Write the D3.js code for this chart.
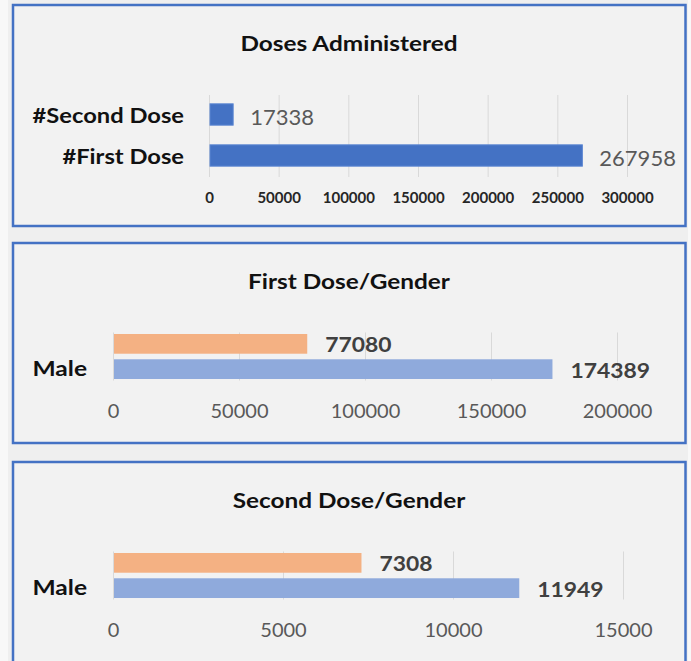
<head><script src="https://d3js.org/d3.v7.min.js"></script></head>

<body>
  <svg id="chart" width="691" height="661"></svg>

  <script>
    // Doses administered (top chart)
    var doseCategories = ["#Second Dose", "#First Dose"];
    var doseValues = [17338, 267958];
    var doseTicks = [0, 50000, 100000, 150000, 200000, 250000, 300000];

    // Gender charts: one category, two series each
    var genderCategories = ["Male"];
    var genderSeries = ["series1", "series2"];
    var firstDoseByGender = [77080, 174389];
    var firstDoseTicks = [0, 50000, 100000, 150000, 200000];
    var secondDoseByGender = [7308, 11949];
    var secondDoseTicks = [0, 5000, 10000, 15000];

    var seriesColors = ["#F4B183", "#8FAADC"];
    var font = "Lato, 'Open Sans', sans-serif";

    var svg = d3.select("#chart");

    // the source screenshot is a bit wider than tall, so stretch text horizontally
    function stretch(sel, sx) {
      sel.each(function() {
        var t = d3.select(this);
        var x = +t.attr("x") || 0;
        t.attr("x", x / sx).attr("transform", "scale(" + sx + ",1)");
      });
    }

    // page background + light strips at the edges
    svg.append("rect").attr("width", 691).attr("height", 661).attr("fill", "#efefef");
    svg.append("rect").attr("width", 8).attr("height", 661).attr("fill", "#f8f8f8");
    svg.append("rect").attr("x", 688).attr("width", 3).attr("height", 661).attr("fill", "#f8f8f8");

    // a framed chart area
    function panel(top, bottom, title) {
      var g = svg.append("g");
      g.append("rect")
        .attr("x", 13).attr("y", top)
        .attr("width", 672.5).attr("height", bottom - top)
        .attr("fill", "#f2f2f2")
        .attr("stroke", "#4472C4").attr("stroke-width", 2.5);
      var t = g.append("text")
        .attr("x", 349).attr("y", top + 46)
        .attr("text-anchor", "middle")
        .style("font-family", font).style("font-size", "21px").style("font-weight", "bold")
        .attr("fill", "#111")
        .text(title);
      stretch(t, 1.16);
      return g;
    }

    // ---------- chart 1 ----------
    var g1 = panel(5, 226, "Doses Administered");

    var x1 = d3.scaleLinear().domain([0, 300000]).range([209, 627]);
    var y1 = d3.scaleBand().domain(doseCategories).range([94, 176])
      .paddingInner(0.48).paddingOuter(0.24);

    var ax1 = g1.append("g").attr("transform", "translate(0,177)")
      .call(d3.axisBottom(x1).tickValues(doseTicks).tickSize(-82).tickFormat(d3.format("d")));
    ax1.select(".domain").remove();
    ax1.selectAll("line").attr("stroke", "#d9d9d9");
    ax1.selectAll("text").attr("y", 26).attr("dy", null)
      .style("font-family", font).style("font-size", "15px").style("font-weight", "bold")
      .attr("fill", "#262626");

    var ay1 = g1.append("g").attr("transform", "translate(209,0)")
      .call(d3.axisLeft(y1).tickSize(0).tickPadding(25));
    ay1.select(".domain").remove();
    ay1.selectAll("text").attr("dy", "0.4em")
      .style("font-family", font).style("font-size", "21px").style("font-weight", "bold")
      .attr("fill", "#111");
    stretch(ay1.selectAll("text"), 1.13);

    g1.selectAll(".bar").data(doseValues).enter().append("rect")
      .attr("x", x1(0) + 1)
      .attr("y", function(d, i) { return y1(doseCategories[i]); })
      .attr("width", function(d) { return x1(d) - x1(0) - 1; })
      .attr("height", y1.bandwidth())
      .attr("fill", "#4472C4").attr("stroke", "#5b86d2").attr("stroke-width", 1);

    g1.selectAll(".val").data(doseValues).enter().append("text")
      .attr("x", function(d) { return x1(d) + 17; })
      .attr("y", function(d, i) { return y1(doseCategories[i]) + y1.bandwidth() / 2 + 10; })
      .style("font-family", font).style("font-size", "22px")
      .attr("fill", "#595959")
      .text(function(d) { return d; });

    // ---------- gender charts ----------
    function genderChart(top, bottom, title, values, ticks, right) {
      var g = panel(top, bottom, title);
      var x = d3.scaleLinear().domain([0, ticks[ticks.length - 1]]).range([113, right]);
      var y = d3.scaleBand().domain(genderCategories).range([top + 81, top + 146])
        .paddingInner(0).paddingOuter(0.222);
      var ys = d3.scaleBand().domain(genderSeries).range([0, y.bandwidth()]).paddingInner(0.22);

      var gridTop = y(genderCategories[0]) - 1.5;
      var gridBottom = y(genderCategories[0]) + y.bandwidth() + 1.5;

      var ax = g.append("g").attr("transform", "translate(0," + gridBottom + ")")
        .call(d3.axisBottom(x).tickValues(ticks).tickSize(-(gridBottom - gridTop)).tickFormat(d3.format("d")));
      ax.select(".domain").remove();
      ax.selectAll("line").attr("stroke", "#d9d9d9");
      ax.selectAll("text").attr("y", 37).attr("dy", null)
        .style("font-family", font).style("font-size", "20px")
        .attr("fill", "#595959");

      var ay = g.append("g").attr("transform", "translate(113,0)")
        .call(d3.axisLeft(y).tickSize(0).tickPadding(26));
      ay.select(".domain").remove();
      ay.selectAll("text").attr("dy", "0.95em")
        .style("font-family", font).style("font-size", "21px").style("font-weight", "bold")
        .attr("fill", "#111");
      stretch(ay.selectAll("text"), 1.17);

      var cat = genderCategories[0];
      g.selectAll(".bar").data(values).enter().append("rect")
        .attr("x", x(0) + 1)
        .attr("y", function(d, i) { return y(cat) + ys(genderSeries[i]); })
        .attr("width", function(d) { return x(d) - x(0) - 1; })
        .attr("height", ys.bandwidth())
        .attr("fill", function(d, i) { return seriesColors[i]; });

      var vals = g.selectAll(".val").data(values).enter().append("text")
        .attr("x", function(d) { return x(d) + 18; })
        .attr("y", function(d, i) { return y(cat) + ys(genderSeries[i]) + ys.bandwidth() / 2 + 8.5; })
        .style("font-family", font).style("font-size", "21px").style("font-weight", "bold")
        .attr("fill", "#404040")
        .text(function(d) { return d; });
      stretch(vals, 1.09);
    }

    genderChart(243, 443, "First Dose/Gender", firstDoseByGender, firstDoseTicks, 617);
    genderChart(462, 680, "Second Dose/Gender", secondDoseByGender, secondDoseTicks, 623);
  </script>
</body>

<style>
body { margin: 0; background: #efefef; }
svg { display: block; }
</style>
